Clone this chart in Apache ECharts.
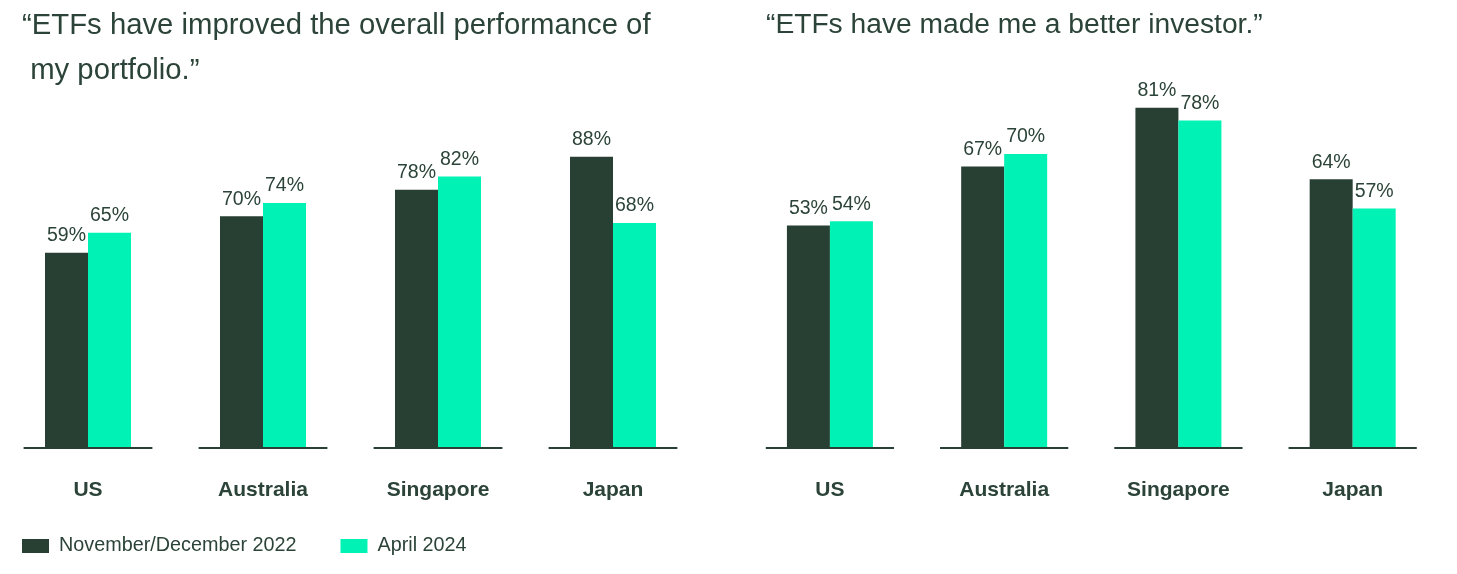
<!DOCTYPE html>
<html>
<head>
<meta charset="utf-8">
<script src="https://cdn.jsdelivr.net/npm/echarts@6/dist/echarts.min.js"></script>
<style>html,body{margin:0;padding:0;background:#fff}#c{width:1457px;height:574px}</style>
</head>
<body>
<div id="c"></div>
<script>
const categories = ['US', 'Australia', 'Singapore', 'Japan'];
const seriesNames = ['November/December 2022', 'April 2024'];
const titles = ['\u201cETFs have improved the overall performance of\n my portfolio.\u201d', '\u201cETFs have made me a better investor.\u201d'];
const performance2022 = [59, 70, 78, 88];
const performance2024 = [65, 74, 82, 68];
const investor2022 = [53, 67, 81, 64];
const investor2024 = [54, 70, 78, 57];

const DARK = '#283f34';
const GREEN = '#00f2b4';
const TEXT = '#2b4338';
const FONT = 'Liberation Sans, Arial, sans-serif';

const chart = echarts.init(document.getElementById('c'), null, {renderer: 'canvas'});

function barSeries(name, data, color, idx) {
  return {
    name: name, type: 'bar', xAxisIndex: idx, yAxisIndex: idx,
    data: data, barWidth: 43, barGap: '0%',
    itemStyle: {color: color},
    label: {show: true, position: 'top', distance: 7, formatter: '{c}%',
            color: TEXT, fontFamily: FONT, fontSize: 19.5},
    emphasis: {disabled: true}
  };
}
function baseSeg(idx) {
  return {
    type: 'custom', xAxisIndex: idx, yAxisIndex: idx, silent: true, z: 5,
    data: categories.map(c => [c, 0]),
    encode: {x: 0, y: 1},
    renderItem: function (params, api) {
      const p = api.coord([api.value(0), 0]);
      const bw = api.size([1, 0])[0];
      return {type: 'line', shape: {x1: p[0] - bw * 0.368, y1: p[1], x2: p[0] + bw * 0.368, y2: p[1]},
              style: {stroke: DARK, lineWidth: 2}};
    }
  };
}
function xAx(idx) {
  return {
    type: 'category', gridIndex: idx, data: categories,
    axisLine: {show: false}, axisTick: {show: false},
    axisLabel: {margin: 32, color: TEXT, fontFamily: FONT, fontSize: 21, fontWeight: 'bold'}
  };
}
function yAx(idx) {
  return {type: 'value', gridIndex: idx, min: 0, max: 100, show: false, splitLine: {show: false}};
}

chart.setOption({
  animation: false,
  title: [
    {text: titles[0], left: 17, top: -2, textStyle: {color: TEXT, fontFamily: FONT, fontSize: 29.3, fontWeight: 'normal', lineHeight: 45}},
    {text: titles[1], left: 761, top: -2, textStyle: {color: TEXT, fontFamily: FONT, fontSize: 28.2, fontWeight: 'normal', lineHeight: 45}}
  ],
  legend: {
    left: 17, top: 531, itemWidth: 27, itemHeight: 14, itemGap: 44, icon: 'rect',
    data: seriesNames,
    textStyle: {color: TEXT, fontFamily: FONT, fontSize: 19.8, padding: [0, 0, 0, 5]}
  },
  grid: [
    {left: 0.5, width: 700, top: 117, height: 331},
    {left: 742.8, width: 697, top: 28, height: 420}
  ],
  xAxis: [xAx(0), xAx(1)],
  yAxis: [yAx(0), yAx(1)],
  series: [
    barSeries(seriesNames[0], performance2022, DARK, 0),
    barSeries(seriesNames[1], performance2024, GREEN, 0),
    barSeries(seriesNames[0], investor2022, DARK, 1),
    barSeries(seriesNames[1], investor2024, GREEN, 1),
    baseSeg(0), baseSeg(1)
  ]
});
</script>
</body>
</html>
